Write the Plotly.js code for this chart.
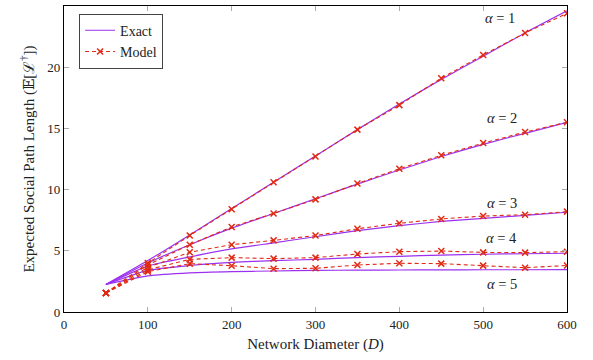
<!DOCTYPE html>
<html>
<head>
<meta charset="utf-8">
<script src="https://cdn.plot.ly/plotly-3.0.1.min.js"></script>
<style>html,body{margin:0;padding:0;background:#fff;}#chart{width:593px;height:360px;}</style>
</head>
<body>
<div id="chart"></div>
<script>
const diameters = [50, 100, 150, 200, 250, 300, 350, 400, 450, 500, 550, 600];

const exactA1 = [2.25, 4.2, 6.3, 8.45, 10.6, 12.75, 14.9, 17.0, 19.0, 20.9, 22.8, 24.6];
const exactA2 = [2.25, 4.0, 5.5, 6.85, 8.05, 9.25, 10.45, 11.6, 12.7, 13.7, 14.6, 15.5];
const exactA3 = [2.25, 3.75, 4.5, 5.15, 5.65, 6.15, 6.65, 7.05, 7.4, 7.65, 7.9, 8.15];
const exactA4 = [2.25, 3.4, 3.8, 4.05, 4.2, 4.3, 4.45, 4.55, 4.65, 4.72, 4.76, 4.8];
const exactA5 = [2.25, 2.95, 3.2, 3.3, 3.35, 3.4, 3.42, 3.43, 3.44, 3.45, 3.45, 3.46];

const modelA1 = [1.55, 4.0, 6.25, 8.4, 10.6, 12.7, 14.9, 16.9, 19.1, 21.0, 22.8, 24.4];
const modelA2 = [1.55, 3.85, 5.5, 6.95, 8.05, 9.2, 10.5, 11.7, 12.8, 13.8, 14.7, 15.5];
const modelA3 = [1.55, 3.65, 4.88, 5.5, 5.85, 6.25, 6.8, 7.25, 7.6, 7.84, 7.95, 8.2];
const modelA4 = [1.55, 3.45, 4.3, 4.44, 4.36, 4.44, 4.74, 4.93, 4.98, 4.87, 4.85, 4.93];
const modelA5 = [1.55, 3.3, 3.95, 3.78, 3.54, 3.57, 3.84, 3.98, 3.95, 3.79, 3.62, 3.8];

const alphaLabels = ['α = 1', 'α = 2', 'α = 3', 'α = 4', 'α = 5'];
const alphaLabelX = [520, 522, 522, 522, 522];
const alphaLabelY = [24.0, 15.85, 8.9, 6.05, 2.3];

const exactSeries = [exactA1, exactA2, exactA3, exactA4, exactA5];
const modelSeries = [modelA1, modelA2, modelA3, modelA4, modelA5];

const exactColor = '#9b30f0';
const modelColor = '#e02a14';
const serif = '"Liberation Serif", "DejaVu Serif", serif';

const traces = [];
exactSeries.forEach((ys, i) => {
  traces.push({
    x: diameters, y: ys, type: 'scatter', mode: 'lines',
    name: 'Exact', legendgroup: 'exact', showlegend: i === 0,
    line: {color: exactColor, width: 1.2, shape: 'spline', smoothing: 0.6},
    hoverinfo: 'skip'
  });
});
modelSeries.forEach((ys, i) => {
  traces.push({
    x: diameters, y: ys, type: 'scatter', mode: 'lines+markers',
    name: 'Model', legendgroup: 'model', showlegend: i === 0,
    line: {color: modelColor, width: 1.1, dash: '4px,3px'},
    marker: {symbol: 'x-thin', size: 6, line: {color: modelColor, width: 1.5}, color: modelColor},
    hoverinfo: 'skip'
  });
});

const annotations = alphaLabels.map((t, i) => {
  const parts = t.split(' = ');
  return {
    x: alphaLabelX[i], y: alphaLabelY[i], xref: 'x', yref: 'y',
    text: '<i>' + parts[0] + '</i> = ' + parts[1],
    showarrow: false,
    font: {family: serif, size: 14.5, color: '#222'}
  };
});

const layout = {
  width: 593, height: 360,
  margin: {l: 64, r: 26, t: 6, b: 48},
  paper_bgcolor: '#fff', plot_bgcolor: '#fff',
  font: {family: serif, size: 13, color: '#222'},
  showlegend: true,
  legend: {
    x: 0.03, y: 0.975, xanchor: 'left', yanchor: 'top',
    bgcolor: '#fff', bordercolor: '#444', borderwidth: 1,
    font: {family: serif, size: 14, color: '#222'},
    tracegroupgap: 0
  },
  xaxis: {
    range: [0, 600], tickvals: [0, 100, 200, 300, 400, 500, 600],
    showgrid: false, zeroline: false,
    showline: true, linecolor: '#000', linewidth: 1.2, mirror: 'ticks',
    ticks: 'inside', ticklen: 5, tickcolor: '#aaa', tickwidth: 1,
    tickfont: {family: serif, size: 13, color: '#222'},
    title: {text: 'Network Diameter (<i>D</i>)', font: {family: serif, size: 15, color: '#222'}, standoff: 7}
  },
  yaxis: {
    range: [0, 25], tickvals: [0, 5, 10, 15, 20, 25],
    showgrid: false, zeroline: false,
    showline: true, linecolor: '#000', linewidth: 1.2, mirror: 'ticks',
    ticks: 'inside', ticklen: 5, tickcolor: '#aaa', tickwidth: 1,
    tickfont: {family: serif, size: 13, color: '#222'},
    title: {text: 'Expected Social Path Length (𝔼[ℒ<sup>†</sup>])', font: {family: serif, size: 15, color: '#222'}, standoff: 9}
  },
  annotations: annotations
};

Plotly.newPlot('chart', traces, layout, {displayModeBar: false, staticPlot: true});
</script>
</body>
</html>
